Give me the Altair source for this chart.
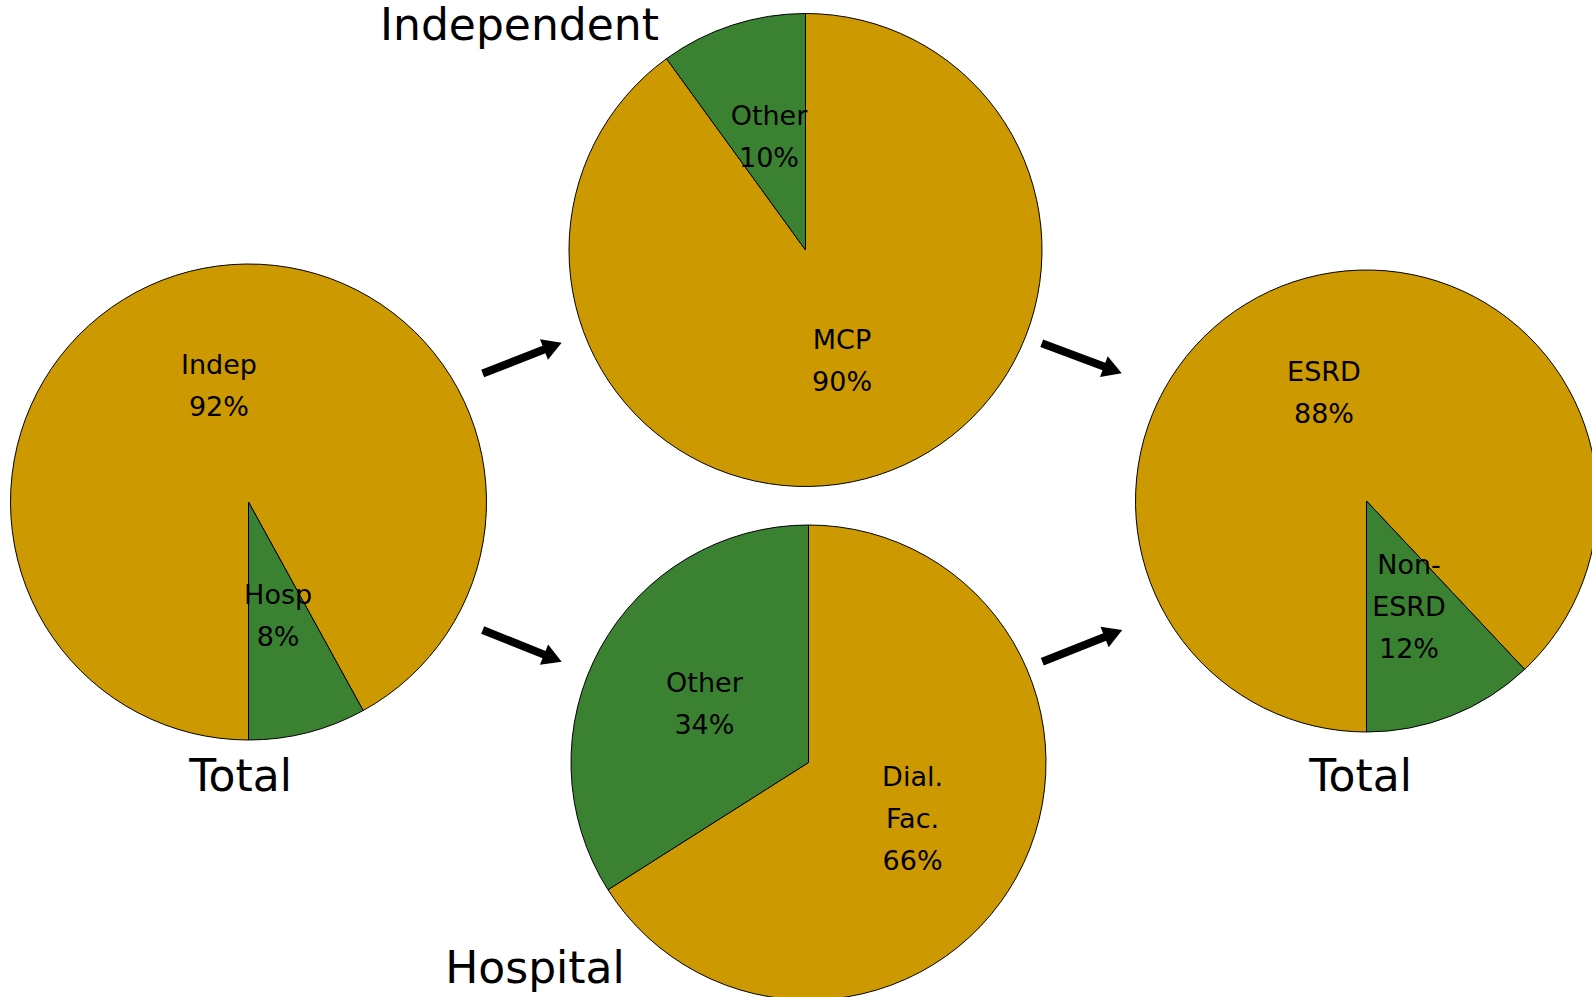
import math
import altair as alt
import pandas as pd

W, H = 1592, 997

# ---- data ----
pie_names = ["Total (all)", "Independent", "Hospital", "Total (ESRD)"]
slice_names = [["Indep", "Hosp"], ["MCP", "Other"], ["Dial.\nFac.", "Other"], ["ESRD", "Non-\nESRD"]]
slice_values = [[92, 8], [90, 10], [66, 34], [88, 12]]
slice_kinds = ["major", "minor"]

title_texts = ["Total", "Independent", "Hospital", "Total"]

# ---- layout (pixels) ----
pie_cx = [248.5, 805.5, 808.5, 1366.5]
pie_cy = [502.0, 250.0, 762.5, 501.0]
pie_r = [238.0, 236.5, 237.5, 231.0]
pie_start = [math.pi, 0.0, 0.0, math.pi]

title_x = [240.5, 519.5, 535.0, 1360.5]
title_y = [791.0, 40.0, 983.0, 791.0]

arrow_tail_x = [482.7, 482.7, 1041.7, 1042.3]
arrow_tail_y = [373.5, 630.0, 343.3, 661.7]
arrow_tip_x = [561.7, 561.7, 1121.7, 1122.3]
arrow_tip_y = [342.7, 661.7, 373.3, 630.0]

GOLD = "#CC9900"
GREEN = "#3A8232"
FONT = "DejaVu Sans"
LINE_H = 42
HEAD = 22  # arrow head width (px)

rows = []
for p, name in enumerate(pie_names):
    for i, (sn, sv) in enumerate(zip(slice_names[p], slice_values[p])):
        rows.append(dict(pie=name, idx=i, name=sn, value=sv, kind=slice_kinds[i],
                         cx=pie_cx[p], cy=pie_cy[p], r=pie_r[p], start=pie_start[p]))
slices = pd.DataFrame(rows)

titles = pd.DataFrame(dict(text=title_texts, x=title_x, y=title_y))
arrows = pd.DataFrame(dict(x0=arrow_tail_x, y0=arrow_tail_y, x1=arrow_tip_x, y1=arrow_tip_y))

base = alt.Chart(slices).transform_window(
    cum="sum(value)", groupby=["pie"], sort=[alt.SortField("idx")]
).transform_joinaggregate(
    total="sum(value)", groupby=["pie"]
).transform_calculate(
    a0="datum.start + 2*PI*(datum.cum - datum.value)/datum.total",
    a1="datum.start + 2*PI*datum.cum/datum.total",
    amid="datum.start + 2*PI*(datum.cum - datum.value/2)/datum.total",
    rl="datum.r/2",
    label="datum.name + '\\n' + datum.value + '%'",
).transform_calculate(
    nl="split(datum.label, '\\n').length",
).transform_calculate(
    cyl=f"datum.cy - (datum.nl - 1)*{LINE_H / 2}",
)

arcs = base.mark_arc(stroke="black", strokeWidth=1).encode(
    x=alt.X("cx:Q", scale=None),
    y=alt.Y("cy:Q", scale=None),
    theta=alt.Theta("a0:Q", scale=None, stack=None),
    theta2="a1:Q",
    radius=alt.Radius("r:Q", scale=None),
    color=alt.Color("kind:N", scale=alt.Scale(domain=slice_kinds, range=[GOLD, GREEN]), legend=None),
)

labels = base.mark_text(font=FONT, fontSize=27, lineHeight=LINE_H, lineBreak="\n",
                        align="center", baseline="middle", color="black").encode(
    x=alt.X("cx:Q", scale=None),
    y=alt.Y("cyl:Q", scale=None),
    theta=alt.Theta("amid:Q", scale=None, stack=None),
    radius=alt.Radius("rl:Q", scale=None),
    text="label:N",
)

title_layer = alt.Chart(titles).mark_text(font=FONT, fontSize=44, align="center",
                                          baseline="alphabetic", color="black").encode(
    x=alt.X("x:Q", scale=None),
    y=alt.Y("y:Q", scale=None),
    text="text:N",
)

arrow_base = alt.Chart(arrows).transform_calculate(
    dx="datum.x1 - datum.x0",
    dy="datum.y1 - datum.y0",
).transform_calculate(
    L="sqrt(datum.dx*datum.dx + datum.dy*datum.dy)",
).transform_calculate(
    ux="datum.dx/datum.L",
    uy="datum.dy/datum.L",
).transform_calculate(
    hx=f"datum.x1 - {0.433 * HEAD}*datum.ux",
    hy=f"datum.y1 - {0.433 * HEAD}*datum.uy",
    sx=f"datum.x1 - {0.8 * HEAD}*datum.ux",
    sy=f"datum.y1 - {0.8 * HEAD}*datum.uy",
    ang="atan2(datum.dx, -datum.dy)*180/PI",
)

shafts = arrow_base.mark_rule(color="black", strokeWidth=8, strokeCap="butt").encode(
    x=alt.X("x0:Q", scale=None),
    y=alt.Y("y0:Q", scale=None),
    x2="sx:Q",
    y2="sy:Q",
)

heads = arrow_base.mark_point(shape="triangle-up", filled=True, color="black",
                              opacity=1, size=HEAD * HEAD, strokeWidth=0).encode(
    x=alt.X("hx:Q", scale=None),
    y=alt.Y("hy:Q", scale=None),
    angle=alt.Angle("ang:Q", scale=None),
)

chart = alt.layer(arcs, labels, title_layer, shafts, heads).properties(
    width=W, height=H, padding=0, autosize=alt.AutoSizeParams(type="none"),
    background="white",
).configure_view(stroke=None)

chart.save("out.html", embed_options={"renderer": "svg", "actions": False})
